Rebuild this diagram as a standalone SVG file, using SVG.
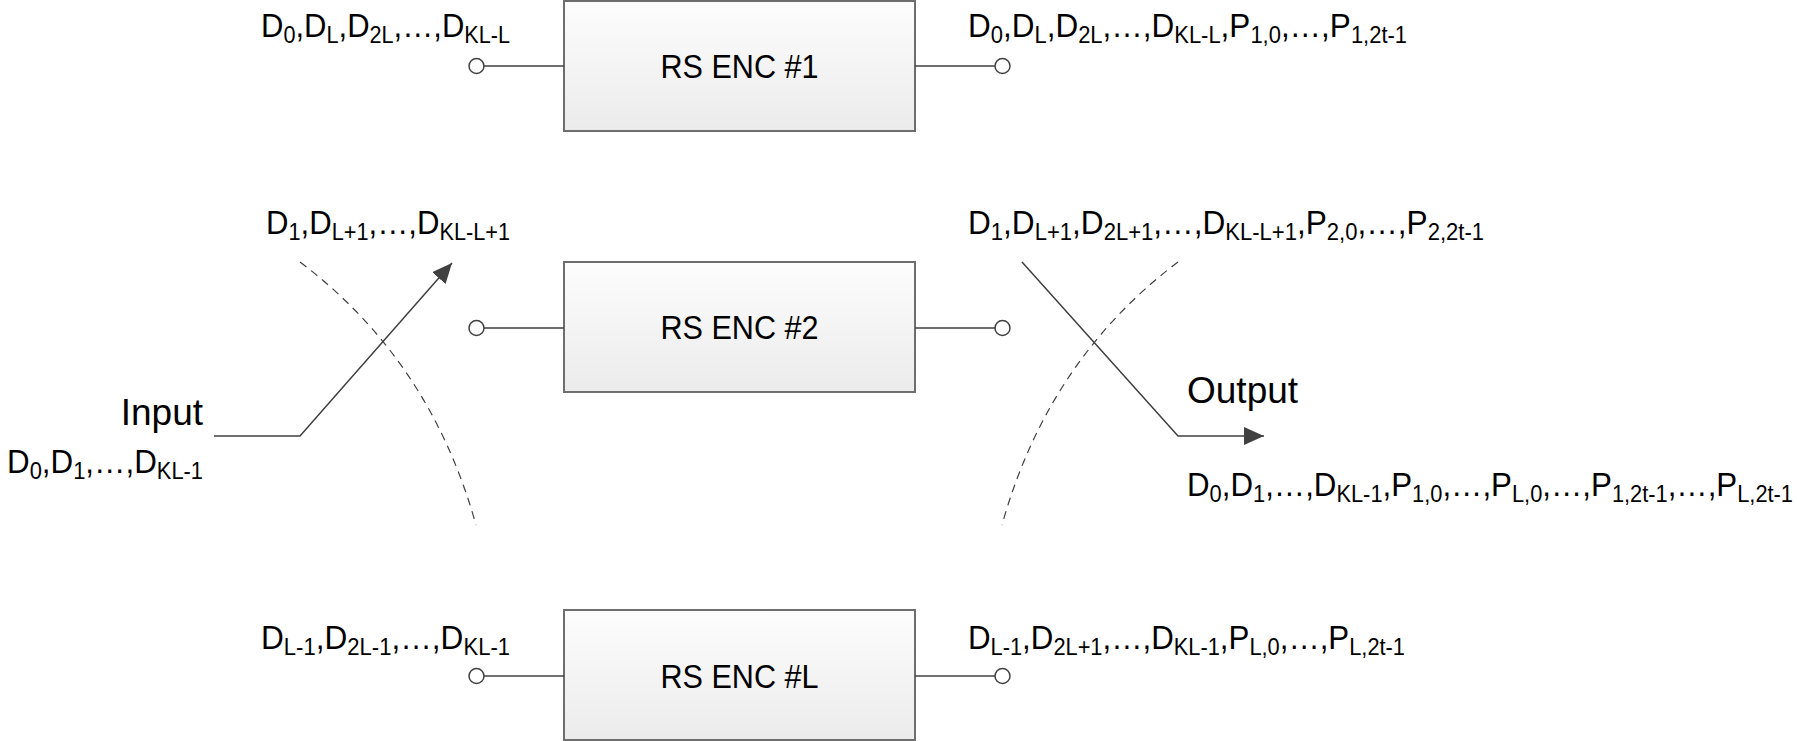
<svg xmlns="http://www.w3.org/2000/svg" width="1797" height="741" viewBox="0 0 1797 741">
<defs>
<linearGradient id="boxfill" x1="0" y1="0" x2="0" y2="1">
<stop offset="0" stop-color="#fdfdfd"/>
<stop offset="1" stop-color="#ebebeb"/>
</linearGradient>
<marker id="arr" markerUnits="userSpaceOnUse" markerWidth="22" markerHeight="20" refX="20" refY="9" orient="auto" viewBox="0 0 22 20">
<path d="M0,0 L20,9 L0,18 z" fill="#404040"/>
</marker>
</defs>
<style>
text{font-family:"Liberation Sans",Arial,sans-serif;font-size:33px;fill:#000}
.s{font-size:23px}
.big{font-size:37px}
.box{fill:url(#boxfill);stroke:#6e6e6e;stroke-width:2}
.ln{fill:none;stroke:#404040;stroke-width:1.5}
.dash{fill:none;stroke:#404040;stroke-width:1.2;stroke-dasharray:8 6}
.port{fill:#fff;stroke:#404040;stroke-width:1.5}
.bt{text-anchor:middle}
</style>

<g id="enc1">
<rect class="box" x="564" y="1" width="351" height="130"/>
<text class="bt" x="739.5" y="78" textLength="158" lengthAdjust="spacingAndGlyphs">RS ENC #1</text>
</g>
<g id="enc2">
<rect class="box" x="564" y="262" width="351" height="130"/>
<text class="bt" x="739.5" y="339" textLength="158" lengthAdjust="spacingAndGlyphs">RS ENC #2</text>
</g>
<g id="encL">
<rect class="box" x="564" y="610" width="351" height="130"/>
<text class="bt" x="739.5" y="688" textLength="158" lengthAdjust="spacingAndGlyphs">RS ENC #L</text>
</g>

<g id="connectors">
<line class="ln" x1="484" y1="66" x2="564" y2="66"/>
<line class="ln" x1="915" y1="66" x2="995" y2="66"/>
<line class="ln" x1="484" y1="328" x2="564" y2="328"/>
<line class="ln" x1="915" y1="328" x2="995" y2="328"/>
<line class="ln" x1="484" y1="676" x2="564" y2="676"/>
<line class="ln" x1="915" y1="676" x2="995" y2="676"/>
<polyline class="ln" points="214,436 300,436 452,263" marker-end="url(#arr)"/>
<polyline class="ln" points="1022,262 1178,436 1264,436" marker-end="url(#arr)"/>
<path class="dash" d="M300,262 Q430,360 476,525"/>
<path class="dash" d="M1178,262 Q1048,360 1002,525"/>
</g>

<g id="ports">
<circle class="port" cx="476.5" cy="66" r="7.5"/>
<circle class="port" cx="1002.5" cy="66" r="7.5"/>
<circle class="port" cx="476.5" cy="328" r="7.5"/>
<circle class="port" cx="1002.5" cy="328" r="7.5"/>
<circle class="port" cx="476.5" cy="676" r="7.5"/>
<circle class="port" cx="1002.5" cy="676" r="7.5"/>
</g>

<g id="labels">
<text x="261" y="37" textLength="249" lengthAdjust="spacingAndGlyphs">D<tspan class="s" dy="6">0</tspan><tspan dy="-6">,D</tspan><tspan class="s" dy="6">L</tspan><tspan dy="-6">,D</tspan><tspan class="s" dy="6">2L</tspan><tspan dy="-6">,…,D</tspan><tspan class="s" dy="6">KL-L</tspan></text>
<text x="968" y="37" textLength="439" lengthAdjust="spacingAndGlyphs">D<tspan class="s" dy="6">0</tspan><tspan dy="-6">,D</tspan><tspan class="s" dy="6">L</tspan><tspan dy="-6">,D</tspan><tspan class="s" dy="6">2L</tspan><tspan dy="-6">,…,D</tspan><tspan class="s" dy="6">KL-L</tspan><tspan dy="-6">,P</tspan><tspan class="s" dy="6">1,0</tspan><tspan dy="-6">,…,P</tspan><tspan class="s" dy="6">1,2t-1</tspan></text>

<text x="266" y="234" textLength="244" lengthAdjust="spacingAndGlyphs">D<tspan class="s" dy="6">1</tspan><tspan dy="-6">,D</tspan><tspan class="s" dy="6">L+1</tspan><tspan dy="-6">,…,D</tspan><tspan class="s" dy="6">KL-L+1</tspan></text>
<text x="968" y="234" textLength="516" lengthAdjust="spacingAndGlyphs">D<tspan class="s" dy="6">1</tspan><tspan dy="-6">,D</tspan><tspan class="s" dy="6">L+1</tspan><tspan dy="-6">,D</tspan><tspan class="s" dy="6">2L+1</tspan><tspan dy="-6">,…,D</tspan><tspan class="s" dy="6">KL-L+1</tspan><tspan dy="-6">,P</tspan><tspan class="s" dy="6">2,0</tspan><tspan dy="-6">,…,P</tspan><tspan class="s" dy="6">2,2t-1</tspan></text>

<text x="261" y="649" textLength="249" lengthAdjust="spacingAndGlyphs">D<tspan class="s" dy="6">L-1</tspan><tspan dy="-6">,D</tspan><tspan class="s" dy="6">2L-1</tspan><tspan dy="-6">,…,D</tspan><tspan class="s" dy="6">KL-1</tspan></text>
<text x="968" y="649" textLength="437" lengthAdjust="spacingAndGlyphs">D<tspan class="s" dy="6">L-1</tspan><tspan dy="-6">,D</tspan><tspan class="s" dy="6">2L+1</tspan><tspan dy="-6">,…,D</tspan><tspan class="s" dy="6">KL-1</tspan><tspan dy="-6">,P</tspan><tspan class="s" dy="6">L,0</tspan><tspan dy="-6">,…,P</tspan><tspan class="s" dy="6">L,2t-1</tspan></text>

<text class="big" x="203" y="425" text-anchor="end">Input</text>
<text x="7" y="473" textLength="196" lengthAdjust="spacingAndGlyphs">D<tspan class="s" dy="6">0</tspan><tspan dy="-6">,D</tspan><tspan class="s" dy="6">1</tspan><tspan dy="-6">,…,D</tspan><tspan class="s" dy="6">KL-1</tspan></text>

<text class="big" x="1187" y="403">Output</text>
<text x="1187" y="496" textLength="606" lengthAdjust="spacingAndGlyphs">D<tspan class="s" dy="6">0</tspan><tspan dy="-6">,D</tspan><tspan class="s" dy="6">1</tspan><tspan dy="-6">,…,D</tspan><tspan class="s" dy="6">KL-1</tspan><tspan dy="-6">,P</tspan><tspan class="s" dy="6">1,0</tspan><tspan dy="-6">,…,P</tspan><tspan class="s" dy="6">L,0</tspan><tspan dy="-6">,…,P</tspan><tspan class="s" dy="6">1,2t-1</tspan><tspan dy="-6">,…,P</tspan><tspan class="s" dy="6">L,2t-1</tspan></text>
</g>
</svg>
